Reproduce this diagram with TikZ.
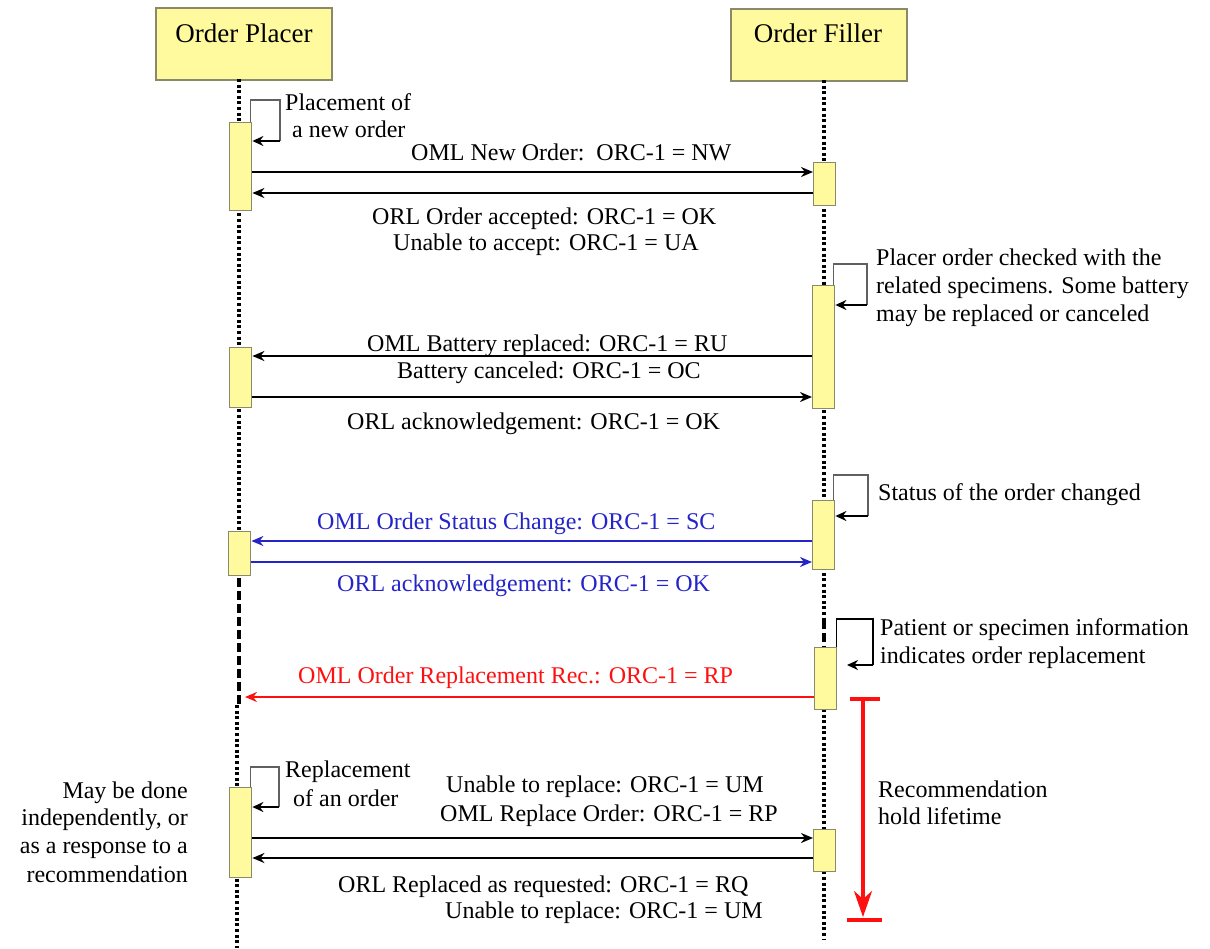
\documentclass[tikz,border=0pt]{standalone}
\usepackage{fontspec}
\setmainfont{Liberation Serif}
\usetikzlibrary{arrows.meta}
\definecolor{boxyellow}{HTML}{FFFA9E}
\definecolor{boxedge}{HTML}{8A8A6A}
\definecolor{msgblue}{HTML}{2424C8}
\definecolor{msgred}{HTML}{FF1010}
\begin{document}
\begin{tikzpicture}[x=1pt,y=-1pt,
  header/.style={draw=boxedge,line width=1.8pt,fill=boxyellow,minimum width=176pt,minimum height=72pt,anchor=north west,inner sep=0pt},
  htext/.style={font=\fontsize{27}{30}\selectfont,inner sep=0pt,anchor=base},
  act/.style={draw=boxedge,line width=1.4pt,fill=boxyellow,minimum width=22pt,anchor=north west,inner sep=0pt},
  life/.style={line width=3.6pt,dash pattern=on 3pt off 2.6pt},
  lifedash/.style={line width=3.6pt,dash pattern=on 9pt off 4pt},
  msg/.style={line width=2.6pt,-{Stealth[length=12pt,width=10pt]}},
  selfmsg/.style={line width=2.4pt,-{Stealth[length=11pt,width=10pt]}},
  loop/.style={draw=gray!75!black,line width=1.6pt},
  lbl/.style={font=\fontsize{24}{27}\selectfont,inner sep=0pt,anchor=base west},
  lblr/.style={font=\fontsize{24}{27}\selectfont,inner sep=0pt,anchor=base east},
]
\useasboundingbox (0,0) rectangle (1210,948);
% headers
\node[header] (op) at (155,7) {};
\node[htext] (opt) at (244,42) {Order Placer};
\node[header] (of) at (730,8) {};
\node[htext] (oft) at (818,42) {Order Filler};
\coordinate (ptop) at (239,79);
\coordinate (ftop) at (824,80);
\coordinate (pmid) at (239,705);
\coordinate (pmid2) at (237,705);
\coordinate (pbot) at (237,948);
\coordinate (fmid) at (824,620);
\coordinate (fbot) at (824,940);
% lifelines
\draw[life] (ptop) -- (239,575);
\draw[lifedash] (239,578) -- (pmid);
\draw[life] (pmid2) -- (pbot);
\draw[life] (ftop) -- (fmid);
\draw[lifedash] (fmid) -- (824,647);
\draw[life] (824,709) -- (fbot);
% activation boxes
\node[act,minimum height=88pt] (pa1) at (229,122) {};
\node[act,minimum height=43pt] (fa1) at (813,162) {};
\node[act,minimum height=123pt] (fa2) at (812,285) {};
\node[act,minimum height=60pt] (pa2) at (229,347) {};
\node[act,minimum height=69pt] (fa3) at (812,500) {};
\node[act,minimum height=44pt] (pa3) at (228,531) {};
\node[act,minimum height=62pt] (fa4) at (814,647) {};
\node[act,minimum height=90pt] (pa4) at (229,787) {};
\node[act,minimum height=42pt] (fa5) at (813,829) {};
% self loops
\draw[loop] (pa1.north east) ++(-2,0) |- (280,100) -- (280,141) coordinate (l1b);
\draw[selfmsg] (l1b) -- (pa1.east |- l1b);
\draw[loop] (fa2.north east) ++(-2,0) |- (867,264) -- (867,305) coordinate (l2b);
\draw[selfmsg] (l2b) -- (fa2.east |- l2b);
\draw[loop] (fa3.north east) ++(-2,0) |- (868,475) -- (868,516) coordinate (l3b);
\draw[selfmsg] (l3b) -- (fa3.east |- l3b);
\draw[loop,draw=black] (fa4.north east) ++(-1,0) |- (873,619) -- (873,665) coordinate (l4b);
\draw[selfmsg] (l4b) -- (847,665);
\draw[loop] (pa4.north east) ++(-2,0) |- (279,767) -- (279,807) coordinate (l5b);
\draw[selfmsg] (l5b) -- (pa4.east |- l5b);
% self-loop notes
\node[lbl] (n1a) at (285,110) {Placement of};
\node[lbl] (n1b) at (292,137) {a new order};
\node[lbl] (n2a) at (876,265) {Placer order checked with the};
\node[lbl] (n2b) at (876,293) {related specimens. Some battery};
\node[lbl] (n2c) at (876,321) {may be replaced or canceled};
\node[lbl] (n3) at (878,500) {Status of the order changed};
\node[lbl] (n4a) at (880,635) {Patient or specimen information};
\node[lbl] (n4b) at (880,663) {indicates order replacement};
\node[lbl] (n5a) at (285,777) {Replacement};
\node[lbl] (n5b) at (293,806) {of an order};
% messages 1
\draw[msg] (pa1.east |- 0,172) -- (fa1.west |- 0,172);
\draw[msg] (fa1.west |- 0,193) -- (pa1.east |- 0,193);
\node[lbl] (m1) at (411,160) {OML New Order:\ \ ORC-1 = NW};
\node[lbl] (m2a) at (372,224) {ORL Order accepted: ORC-1 = OK};
\node[lbl] (m2b) at (393,250) {Unable to accept: ORC-1 = UA};
% messages 2
\draw[msg] (fa2.west |- 0,356) -- (pa2.east |- 0,356);
\draw[msg] (pa2.east |- 0,397) -- (fa2.west |- 0,397);
\node[lbl] (m3) at (367,351) {OML Battery replaced: ORC-1 = RU};
\node[lbl] (m4) at (397,378) {Battery canceled: ORC-1 = OC};
\node[lbl] (m5) at (347,429) {ORL acknowledgement: ORC-1 = OK};
% messages 3 (blue)
\draw[msg,msgblue] (fa3.west |- 0,541) -- (pa3.east |- 0,541);
\draw[msg,msgblue] (pa3.east |- 0,562) -- (fa3.west |- 0,562);
\node[lbl,text=msgblue] (m6) at (317,529) {OML Order Status Change: ORC-1 = SC};
\node[lbl,text=msgblue] (m7) at (337,591) {ORL acknowledgement: ORC-1 = OK};
% message 4 (red)
\coordinate (rtip) at (245,697);
\draw[msg,msgred] (fa4.west |- 0,697) -- (rtip);
\node[lbl,text=msgred] (m8) at (298,683) {OML Order Replacement Rec.: ORC-1 = RP};
% lifetime bar
\coordinate (lt1) at (863,699);
\coordinate (lt2) at (863,920);
\draw[msgred,line width=4pt] (850,699) -- (880,699);
\draw[msgred,line width=4pt] (847,920) -- (882,920);
\draw[msgred,line width=3.4pt,-{Stealth[length=26pt,width=18pt,inset=8pt]}] (lt1) -- (863,917);
\node[lbl] (n6a) at (878,797) {Recommendation};
\node[lbl] (n6b) at (878,824) {hold lifetime};
% messages 5
\draw[msg] (pa4.east |- 0,838) -- (fa5.west |- 0,838);
\draw[msg] (fa5.west |- 0,858) -- (pa4.east |- 0,858);
\node[lbl] (m9a) at (446,792) {Unable to replace: ORC-1 = UM};
\node[lbl] (m9b) at (440,821) {OML Replace Order: ORC-1 = RP};
\node[lbl] (m10a) at (338,892) {ORL Replaced as requested: ORC-1 = RQ};
\node[lbl] (m10b) at (445,918) {Unable to replace: ORC-1 = UM};
% left note
\node[lblr] (n7a) at (188,798) {May be done};
\node[lblr] (n7b) at (188,825) {independently, or};
\node[lblr] (n7c) at (188,853) {as a response to a};
\node[lblr] (n7d) at (188,882) {recommendation};
\end{tikzpicture}
\end{document}
